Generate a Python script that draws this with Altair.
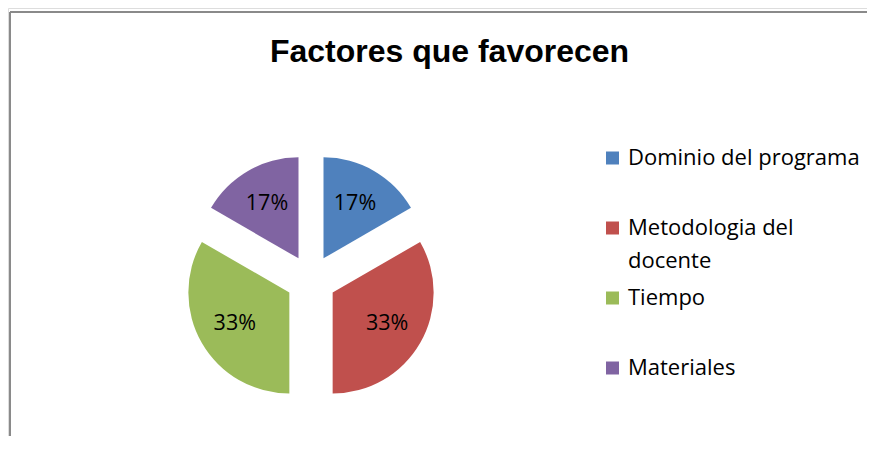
import altair as alt
import pandas as pd

# ---- data ----
categories = ["Dominio del programa", "Metodologia del docente", "Tiempo", "Materiales"]
legend_labels = ["Dominio del programa", "Metodologia del\ndocente", "Tiempo", "Materiales"]
values = [1, 2, 2, 1]
colors = ["#4F81BD", "#C0504D", "#9BBB59", "#8064A2"]

df = pd.DataFrame({"cat": categories, "label": legend_labels, "value": values,
                   "order": list(range(len(categories)))})

# ---- layout constants (pixels inside the view) ----
CX, CY, R, EXPLODE, LR = 303, 272, 101, 25, 63
W, H = 859, 428

color = alt.Color("cat:N", scale=alt.Scale(domain=categories, range=colors), legend=None)

base = (
    alt.Chart(df)
    .transform_joinaggregate(total="sum(value)")
    .transform_window(cum="sum(value)", sort=[alt.SortField("order")])
    .transform_calculate(
        t0="(datum.cum - datum.value) / datum.total * 2 * PI",
        t1="datum.cum / datum.total * 2 * PI",
    )
    .transform_calculate(mid="(datum.t0 + datum.t1) / 2")
    .transform_calculate(
        px=f"{CX} + {EXPLODE} * sin(datum.mid)",
        py=f"{CY} - {EXPLODE} * cos(datum.mid)",
        lx=f"{CX} + {EXPLODE + LR} * sin(datum.mid)",
        ly=f"{CY} - {EXPLODE + LR} * cos(datum.mid)",
        pct="format(datum.value / datum.total, '.0%')",
    )
)

arcs = base.mark_arc(outerRadius=R).encode(
    theta=alt.Theta("t0:Q", scale=None),
    theta2="t1:Q",
    x=alt.X("px:Q", scale=None, axis=None),
    y=alt.Y("py:Q", scale=None, axis=None),
    color=color,
)

labels = base.mark_text(font="Open Sans", fontSize=21.5, baseline="middle",
                        align="center", color="black").encode(
    x=alt.X("lx:Q", scale=None, axis=None),
    y=alt.Y("ly:Q", scale=None, axis=None),
    text="pct:N",
)

leg_y = alt.Y("cat:N", scale=alt.Scale(domain=categories, range=[150, 360], padding=0), axis=None)

leg_sq = alt.Chart(df).mark_square(size=169, opacity=1, filled=True).encode(
    x=alt.value(604.5), y=leg_y, color=color
)
leg_tx = alt.Chart(df).mark_text(font="Open Sans", fontSize=22, align="left", baseline="middle",
                                 lineBreak="\n", lineHeight=33, color="black").encode(
    x=alt.value(620), y=leg_y, text="label:N"
)

frame_df = pd.DataFrame({"k": [0]})
rule_v = alt.Chart(frame_df).mark_rule(color="#8a8a8a", strokeWidth=2).encode(
    x=alt.value(2), y=alt.value(4), y2=alt.value(H)
)
rule_h = alt.Chart(frame_df).mark_rule(color="#8a8a8a", strokeWidth=2).encode(
    x=alt.value(2), x2=alt.value(W), y=alt.value(4)
)

chart = (
    alt.layer(rule_v, rule_h, arcs, labels, leg_sq, leg_tx)
    .resolve_scale(x="independent", y="independent")
    .properties(
        width=W, height=H,
        autosize=alt.AutoSizeParams(type="none"),
        padding={"left": 0, "top": 0, "right": 0, "bottom": 0},
        title=alt.Title("Factores que favorecen", font="Liberation Sans", fontSize=32,
                        fontWeight="bold", anchor="middle", baseline="alphabetic",
                        offset=0, dy=86, dx=12, color="black"),
    )
    .configure_view(stroke=None)
    .configure_axis(grid=False, domain=False, ticks=False, labels=False)
    .configure(background="white")
)

chart.save("out.html", embed_options={"renderer": "svg", "actions": False})
